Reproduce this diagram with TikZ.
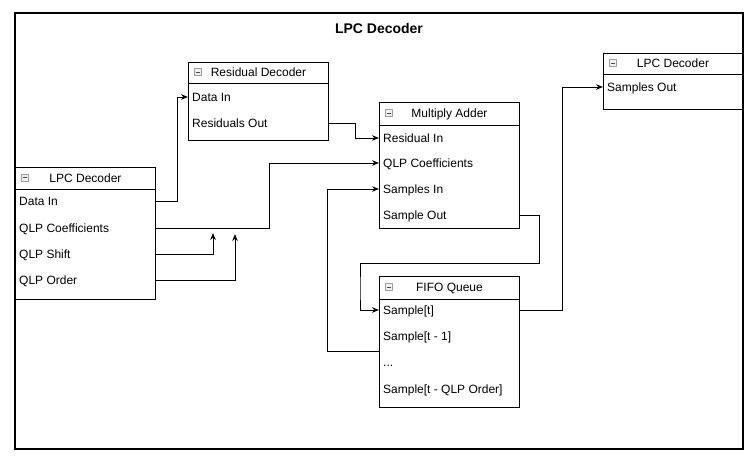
\documentclass[tikz,border=0pt]{standalone}
\usepackage{fontspec}
\setmainfont{Liberation Sans}
\usetikzlibrary{arrows.meta,calc}
\newcommand{\umlhead}[3]{%
  \draw[line width=1pt] ($(#1.north west)+(0,#2)$) -- ($(#1.north east)+(0,#2)$);
  \node[hdr] at ($(#1.north)+(0,#2/2)$) {#3};
  \draw[fill=gray!12, draw=gray!75, line width=0.6pt] ($(#1.north west)+(6,#2/2-4)$) rectangle ++(7,7);
  \draw[line width=0.9pt, black!70] ($(#1.north west)+(7.5,#2/2-0.5)$) -- ++(4,0);
}
\begin{document}
\begin{tikzpicture}[x=1pt,y=-1pt,
  box/.style={draw, line width=1pt, anchor=north west, inner sep=0pt, fill=white},
  rowtxt/.style={anchor=west, inner sep=0pt, text height=8.6pt, text depth=0pt, font=\fontsize{12}{14}\selectfont},
  hdr/.style={anchor=center, inner sep=0pt, text height=8.6pt, text depth=0pt, font=\fontsize{12}{14}\selectfont},
  conn/.style={line width=1pt, -{Stealth[length=7pt,width=5.5pt]}},
  titletxt/.style={font=\fontsize{14}{16}\selectfont\bfseries, inner sep=0pt}]
\useasboundingbox (0,0) rectangle (756,466);
\fill[white] (0,0) rectangle (756,466);

% title
\node[titletxt] (title) at (379,28) {LPC Decoder};

% left LPC decoder
\node[box, minimum width=140pt, minimum height=132pt] (lpc) at (15,167) {};
\umlhead{lpc}{22}{LPC Decoder}
\node[rowtxt] (ldata)  at (19,201) {Data In};
\node[rowtxt] (lcoef)  at (19,228) {QLP Coefficients};
\node[rowtxt] (lshift) at (19,254) {QLP Shift};
\node[rowtxt] (lorder) at (19,280) {QLP Order};

% residual decoder
\node[box, minimum width=140pt, minimum height=78pt] (res) at (188,62) {};
\umlhead{res}{21}{Residual Decoder}
\node[rowtxt] (rdata) at (192,97) {Data In};
\node[rowtxt] (rout)  at (192,123) {Residuals Out};

% multiply adder
\node[box, minimum width=140pt, minimum height=126pt] (ma) at (379,102) {};
\umlhead{ma}{23}{Multiply Adder}
\node[rowtxt] (mres)  at (383,138) {Residual In};
\node[rowtxt] (mcoef) at (383,163) {QLP Coefficients};
\node[rowtxt] (msin)  at (383,189) {Samples In};
\node[rowtxt] (mout)  at (383,215) {Sample Out};

% FIFO queue
\node[box, minimum width=140pt, minimum height=131pt] (fifo) at (379,276) {};
\umlhead{fifo}{23}{FIFO Queue}
\node[rowtxt] (fs0) at (383,310) {Sample[t]};
\node[rowtxt] (fs1) at (383,336) {Sample[t - 1]};
\node[rowtxt] (fdots) at (383,362) {...};
\node[rowtxt] (fsn) at (383,389) {Sample[t - QLP Order]};

% right LPC decoder
\node[box, minimum width=139pt, minimum height=56pt] (rlpc) at (603,53) {};
\umlhead{rlpc}{21}{LPC Decoder}
\node[rowtxt] (rsout) at (607,87) {Samples Out};

% free ends and way points
\coordinate (tipA) at (213,233);
\coordinate (tipB) at (235,234);
\coordinate (fback) at (379,351);

% connectors
\draw[conn] (lpc.east|-ldata) -- ++(21,0) |- (res.west|-rdata);
\draw[conn] (res.east|-rout) -- ++(26,0) |- (ma.west|-mres);
\draw[conn] (lpc.east|-lcoef) -- ++(113,0) |- (ma.west|-mcoef);
\draw[conn] (fback) -- ++(-52,0) |- (ma.west|-msin);
\draw[conn] (ma.east|-mout) -| (539,263) -| (360,290) |- (fifo.west|-fs0);
\draw[conn] (fifo.east|-fs0) -- ++(42,0) |- (rlpc.west|-rsout);
\draw[conn] (lpc.east|-lshift) -| (tipA);
\draw[conn] (lpc.east|-lorder) -| (tipB);

% outer frame
\draw[line width=2.5pt] (15,13) rectangle (743,449);
\end{tikzpicture}
\end{document}
